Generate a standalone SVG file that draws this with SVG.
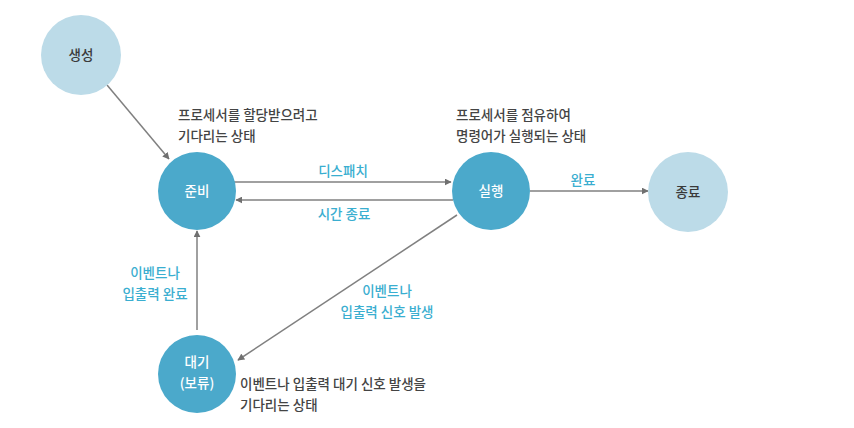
<svg xmlns="http://www.w3.org/2000/svg" width="854" height="428" viewBox="0 0 854 428">
<style>
text{font-family:"Noto Sans CJK KR","Noto Sans",sans-serif;font-size:13.5px;font-weight:500}
.dark{fill:#4ba9cb}
.light{fill:#bcdbe8}
.wt{fill:#ffffff;text-anchor:middle}
.dt{fill:#3a3a3a;text-anchor:middle}
.note{fill:#444444}
.lbl{fill:#3aaed0;text-anchor:middle}
.edge{stroke:#808080;stroke-width:1.5;fill:none;marker-end:url(#ah)}
</style>
<defs>
<marker id="ah" viewBox="0 0 10 10" refX="9" refY="5" markerWidth="7" markerHeight="7" orient="auto" markerUnits="userSpaceOnUse">
<path d="M0,0 L10,5 L0,10 Z" fill="#707070"/>
</marker>
</defs>
<rect width="854" height="428" fill="#ffffff"/>
<g id="connectors">
<line class="edge" x1="107" y1="85" x2="169" y2="159"/>
<line class="edge" x1="228" y1="182" x2="451" y2="182"/>
<line class="edge" x1="453" y1="200" x2="236" y2="200"/>
<line class="edge" x1="530" y1="191" x2="648" y2="191"/>
<line class="edge" x1="197" y1="330" x2="197" y2="231"/>
<line class="edge" x1="457" y1="215" x2="238" y2="360"/>
</g>
<g id="n-create"><circle class="light" cx="81" cy="55" r="40"/><text class="dt" x="81" y="60">생성</text></g>
<g id="n-ready"><circle class="dark" cx="197" cy="191" r="39"/><text class="wt" x="197" y="196">준비</text></g>
<g id="n-run"><circle class="dark" cx="491" cy="191" r="39"/><text class="wt" x="491" y="196">실행</text></g>
<g id="n-end"><circle class="light" cx="688" cy="192" r="40"/><text class="dt" x="688" y="197">종료</text></g>
<g id="n-wait"><circle class="dark" cx="197" cy="374" r="39"/><text class="wt" x="197" y="367">대기</text><text class="wt" x="197" y="388">(보류)</text></g>
<g id="labels">
<text class="note" x="178" y="120">프로세서를 할당받으려고</text>
<text class="note" x="178" y="141">기다리는 상태</text>
<text class="note" x="456" y="120">프로세서를 점유하여</text>
<text class="note" x="456" y="141">명령어가 실행되는 상태</text>
<text class="note" x="240" y="389">이벤트나 입출력 대기 신호 발생을</text>
<text class="note" x="240" y="410">기다리는 상태</text>
<text class="lbl" x="343" y="176">디스패치</text>
<text class="lbl" x="344" y="219">시간 종료</text>
<text class="lbl" x="583" y="185">완료</text>
<text class="lbl" x="155" y="278">이벤트나</text>
<text class="lbl" x="155" y="299">입출력 완료</text>
<text class="lbl" x="387" y="296">이벤트나</text>
<text class="lbl" x="387" y="317">입출력 신호 발생</text>
</g>
</svg>
